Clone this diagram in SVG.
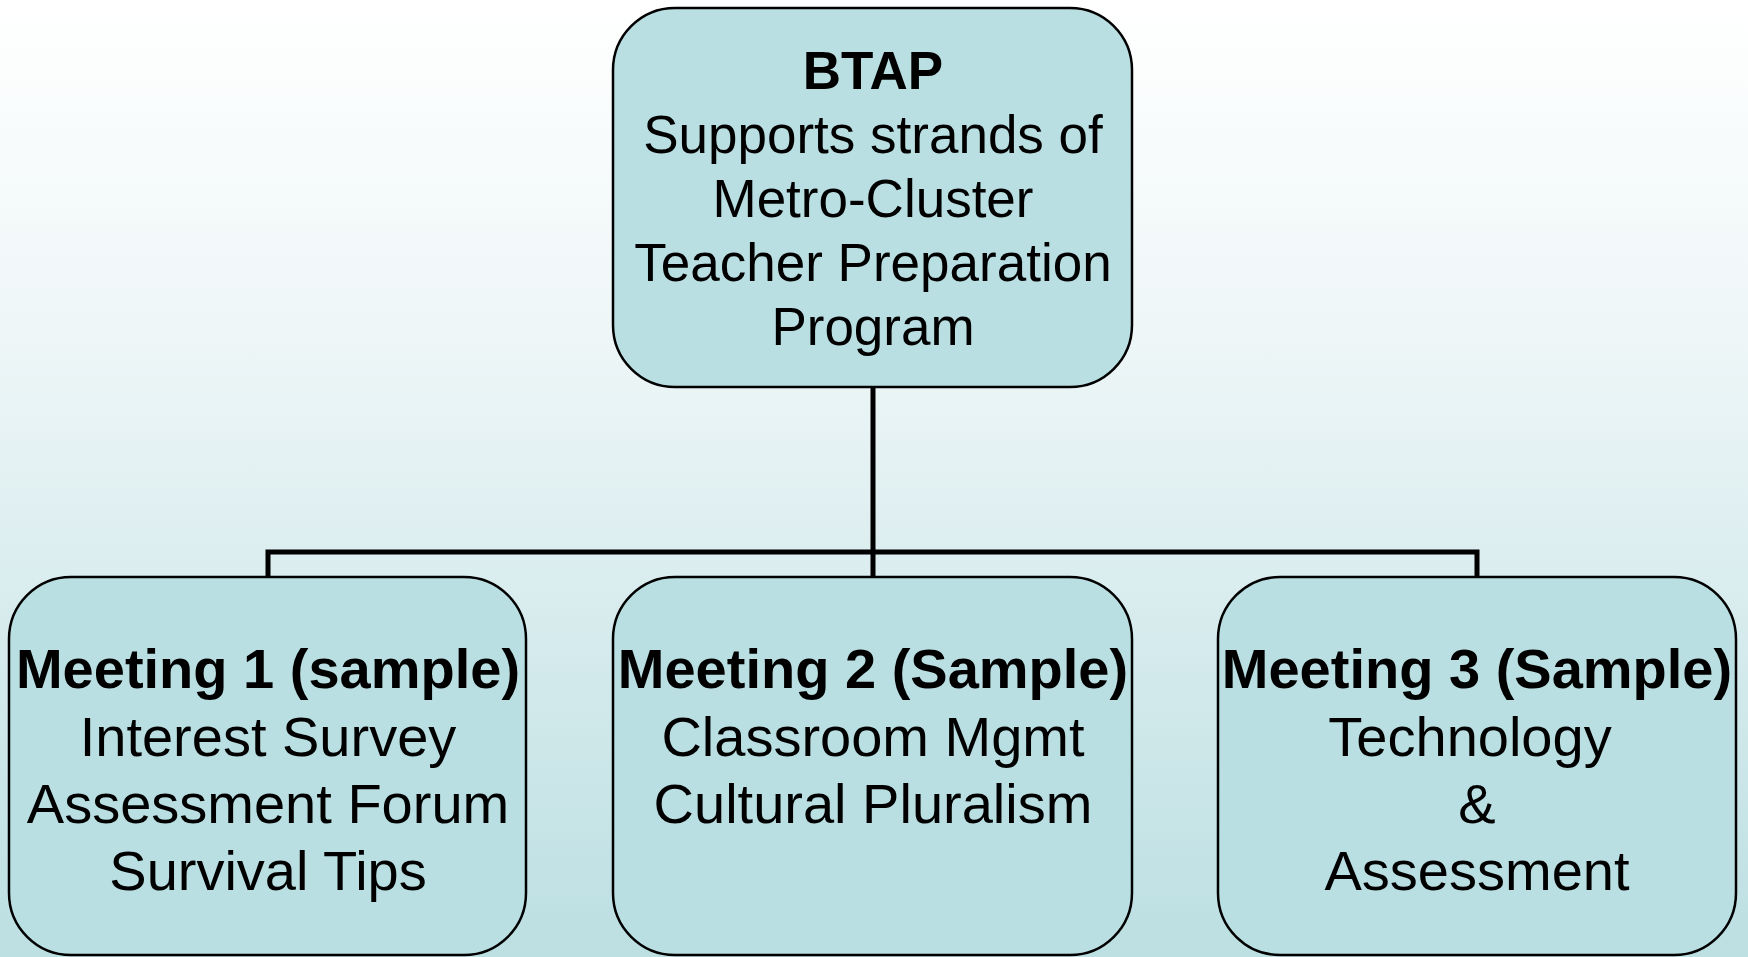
<svg xmlns="http://www.w3.org/2000/svg" width="1748" height="957" viewBox="0 0 1748 957">
<defs>
<linearGradient id="bg" x1="0" y1="0" x2="0" y2="1">
<stop offset="0" stop-color="#ffffff"/>
<stop offset="0.35" stop-color="#eef6f7"/>
<stop offset="1" stop-color="#bcdfe2"/>
</linearGradient>
</defs>
<style>
.box{fill:#b9dfe2;stroke:#000;stroke-width:2.5}
.t{font-family:"Liberation Sans",Arial,sans-serif;fill:#000;text-anchor:middle}
.b{font-weight:bold}
.top{font-size:53px}
.bot{font-size:56px}
.conn{fill:none;stroke:#000;stroke-width:5}
</style>
<rect x="0" y="0" width="1748" height="957" fill="url(#bg)"/>
<g id="connectors">
<path class="conn" d="M873,387 V552"/>
<path class="conn" d="M268,577 V552 H1477 V577"/>
<path class="conn" d="M873,552 V577"/>
</g>
<g id="btap">
<rect class="box" x="613" y="8" width="519" height="379" rx="62" ry="62"/>
<text class="t top b" x="873" y="89">BTAP</text>
<text class="t top" x="873" y="153">Supports strands of</text>
<text class="t top" x="873" y="217">Metro-Cluster</text>
<text class="t top" x="873" y="281">Teacher Preparation</text>
<text class="t top" x="873" y="345">Program</text>
</g>
<g id="meeting1">
<rect class="box" x="9" y="577" width="517" height="378" rx="62" ry="62"/>
<text class="t bot b" x="268" y="688">Meeting 1 (sample)</text>
<text class="t bot" x="268" y="756">Interest Survey</text>
<text class="t bot" x="268" y="823">Assessment Forum</text>
<text class="t bot" x="268" y="890">Survival Tips</text>
</g>
<g id="meeting2">
<rect class="box" x="613" y="577" width="519" height="378" rx="62" ry="62"/>
<text class="t bot b" x="873" y="688">Meeting 2 (Sample)</text>
<text class="t bot" x="873" y="756">Classroom Mgmt</text>
<text class="t bot" x="873" y="823">Cultural Pluralism</text>
</g>
<g id="meeting3">
<rect class="box" x="1218" y="577" width="518" height="378" rx="62" ry="62"/>
<text class="t bot b" x="1477" y="688">Meeting 3 (Sample)</text>
<text class="t bot" x="1470" y="756">Technology</text>
<text class="t bot" x="1477" y="823">&amp;</text>
<text class="t bot" x="1477" y="890">Assessment</text>
</g>
</svg>
